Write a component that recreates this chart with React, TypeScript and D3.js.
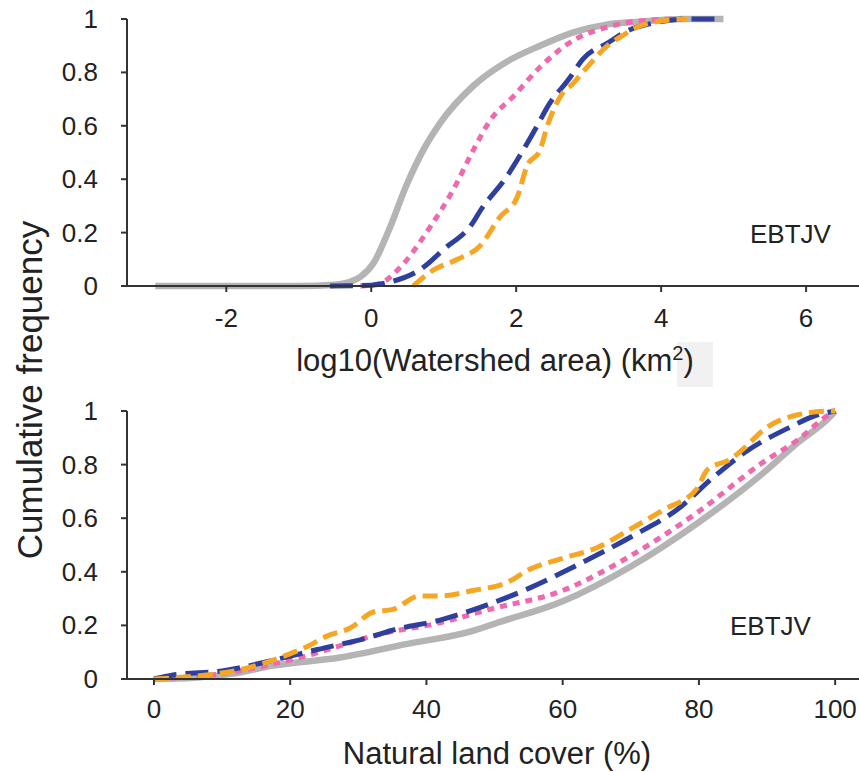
import React from 'react'
import * as d3 from 'd3'

// top panel: log10(watershed area) CDFs
const areaGray = [[-2.98, 0], [-1, 0], [-0.5, 0.005], [-0.3, 0.015], [-0.15, 0.034], [0.03, 0.085], [0.26, 0.22], [0.49, 0.38], [0.72, 0.51], [0.95, 0.61], [1.41, 0.75], [1.87, 0.84], [2.33, 0.9], [2.79, 0.95], [3.26, 0.98], [3.71, 0.99], [4.3, 1], [4.86, 1]]
const areaPink = [[-0.15, 0], [0.12, 0.01], [0.4, 0.07], [0.81, 0.22], [1.13, 0.36], [1.41, 0.51], [1.64, 0.62], [1.96, 0.71], [2.33, 0.82], [2.79, 0.92], [3.26, 0.97], [3.61, 0.99], [4.2, 1]]
const areaBlue = [[-0.57, 0], [0, 0.003], [0.26, 0.015], [0.72, 0.07], [0.99, 0.135], [1.41, 0.24], [1.5, 0.28], [1.87, 0.41], [2.01, 0.47], [2.29, 0.6], [2.43, 0.67], [2.74, 0.78], [2.92, 0.85], [3.26, 0.91], [3.57, 0.96], [3.9, 0.985], [4.36, 1], [4.86, 1]]
const areaOrange = [[0.58, 0], [0.86, 0.06], [1.19, 0.1], [1.5, 0.15], [1.78, 0.26], [2.01, 0.33], [2.15, 0.45], [2.33, 0.51], [2.43, 0.6], [2.61, 0.71], [2.79, 0.76], [2.98, 0.82], [3.26, 0.9], [3.48, 0.94], [3.67, 0.97], [3.94, 0.99], [4.36, 1]]

// bottom panel: natural land cover CDFs
const coverGray = [[0, 0], [6, 0.005], [11.6, 0.02], [17.5, 0.05], [27.3, 0.08], [37, 0.13], [46.8, 0.18], [50.4, 0.21], [60, 0.29], [70, 0.42], [79.7, 0.58], [89.5, 0.77], [94.4, 0.88], [99.3, 0.98], [100, 1]]
const coverPink = [[0.5, 0], [10, 0.02], [21.4, 0.08], [33.6, 0.17], [42, 0.21], [49.3, 0.26], [60, 0.33], [70, 0.46], [79.7, 0.62], [89.5, 0.81], [94.4, 0.89], [99.3, 0.99], [100, 1]]
const coverBlue = [[0, 0], [2.8, 0.015], [10, 0.03], [17.5, 0.07], [24, 0.11], [32.2, 0.16], [34.7, 0.18], [42, 0.22], [49.3, 0.28], [55.2, 0.34], [62.5, 0.43], [70, 0.53], [77.2, 0.64], [82, 0.75], [87, 0.85], [93.4, 0.94], [96.8, 0.98], [100, 1]]
const coverOrange = [[0, 0], [7.7, 0.015], [12.6, 0.034], [18.5, 0.08], [22.4, 0.12], [25.4, 0.16], [28.8, 0.19], [32.2, 0.25], [35.1, 0.26], [39, 0.31], [42, 0.31], [46.8, 0.33], [51.8, 0.36], [55.2, 0.41], [60, 0.45], [65, 0.49], [70, 0.56], [74.7, 0.63], [79.7, 0.71], [81.2, 0.78], [84.6, 0.82], [87, 0.87], [89.5, 0.93], [94.4, 0.985], [99.3, 1], [100, 1]]

const areaTicks = [-2, 0, 2, 4, 6]
const coverTicks = [0, 20, 40, 60, 80, 100]
const yTicks = [0, 0.2, 0.4, 0.6, 0.8, 1]

const styles = [
  { color: '#b4b4b4', dash: null, w: 6.5 },
  { color: '#f068ad', dash: '7,6', w: 5 },
  { color: '#2f3f9e', dash: '23,9', w: 5 },
  { color: '#f6a623', dash: '15,7', w: 5 },
]

const font = 'Liberation Sans, Arial, sans-serif'

function Panel({ series, xDomain, ticks, yTop, yBottom, tickLabelY, title, titleY, labelX, labelY }) {
  const x = d3.scaleLinear().domain(xDomain).range([127, 859])
  const y = d3.scaleLinear().domain([0, 1]).range([yBottom, yTop])
  const ln = d3.line().x(d => x(d[0])).y(d => y(d[1])).curve(d3.curveMonotoneX)
  return (
    <g>
      {series.map((s, i) => (
        <path key={i} d={ln(s)} fill="none" stroke={styles[i].color} strokeWidth={styles[i].w}
          strokeDasharray={styles[i].dash || undefined} strokeLinejoin="round" />
      ))}
      <line x1={127} x2={859} y1={yBottom} y2={yBottom} stroke="#333" strokeWidth={2} />
      <line x1={127} x2={127} y1={yTop} y2={yBottom} stroke="#333" strokeWidth={2} />
      {ticks.map(t => (
        <g key={t}>
          <line x1={x(t)} x2={x(t)} y1={yBottom} y2={yBottom + 6} stroke="#333" strokeWidth={2} />
          <text x={x(t)} y={tickLabelY} textAnchor="middle" fontSize={26} fill="#222">{t}</text>
        </g>
      ))}
      {yTicks.map(t => (
        <g key={t}>
          <line x1={121} x2={127} y1={y(t)} y2={y(t)} stroke="#333" strokeWidth={2} />
          <text x={98} y={y(t) + 9} textAnchor="end" fontSize={26} fill="#222">{t}</text>
        </g>
      ))}
      <text x={labelX} y={labelY} fontSize={26} fill="#222">EBTJV</text>
      <text x={title.x} y={titleY} textAnchor="middle" fontSize={31} fill="#222">{title.content}</text>
    </g>
  )
}

export default function App() {
  return (
    <svg width={859} height={772} style={{ position: 'absolute', left: 0, top: 0, background: '#fff' }} fontFamily={font}>
      <rect x={677} y={342} width={36} height={45} fill="#f1f1f1" />
      <Panel series={[areaGray, areaPink, areaBlue, areaOrange]} xDomain={[-3.37, 6.73]} ticks={areaTicks}
        yTop={19} yBottom={286} tickLabelY={327}
        title={{ x: 495, content: <>log10(Watershed area) (km<tspan dy={-11} fontSize={20}>2</tspan><tspan dy={11}>)</tspan></> }}
        titleY={371} labelX={750} labelY={243} />
      <Panel series={[coverGray, coverPink, coverBlue, coverOrange]} xDomain={[-3.96, 103.5]} ticks={coverTicks}
        yTop={411} yBottom={679} tickLabelY={718}
        title={{ x: 497, content: 'Natural land cover (%)' }}
        titleY={764} labelX={730} labelY={635} />
      <text transform="translate(42,390) rotate(-90)" textAnchor="middle" fontSize={35} fill="#222">Cumulative frequency</text>
    </svg>
  )
}
